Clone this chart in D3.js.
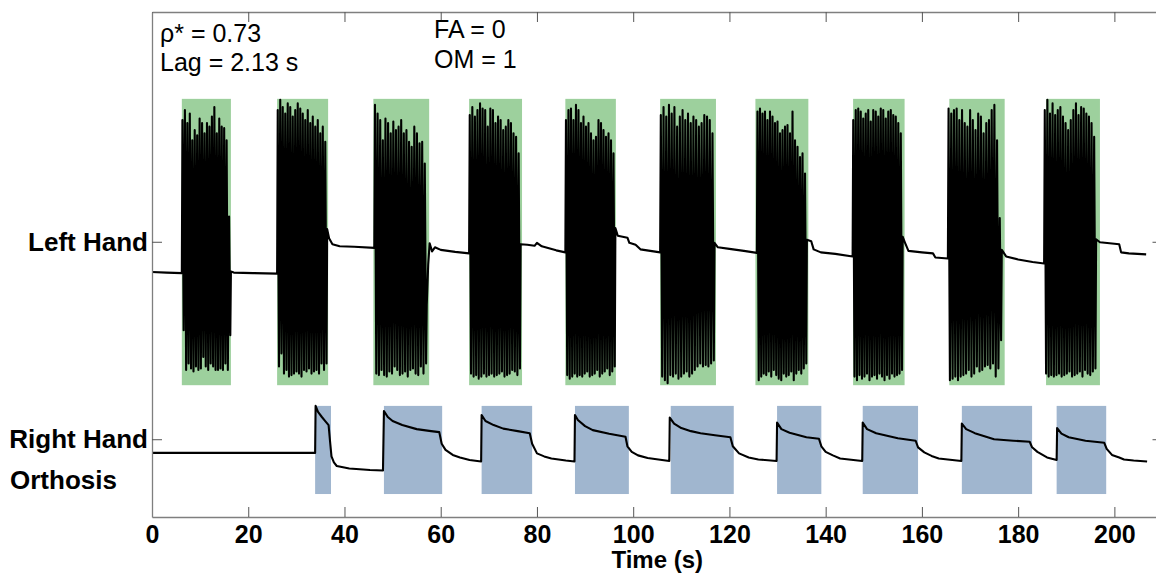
<!DOCTYPE html>
<html>
<head>
<meta charset="utf-8">
<script src="https://cdn.jsdelivr.net/npm/d3@7"></script>
<style>
    html, body { margin: 0; padding: 0; background: #fff; }
    svg { display: block; font-family: "Liberation Sans", Arial, sans-serif; }
</style>
</head>
<body>
<div id="chart"></div>
<script>
// Task cue blocks (s)
const greenStart = [6.2, 26.0, 46.0, 65.9, 85.9, 105.6, 125.4, 145.7, 165.7, 185.8];
const greenEnd   = [16.4, 36.6, 57.6, 76.9, 96.4, 117.2, 136.4, 156.4, 177.2, 197.0];
const blueStart  = [33.9, 48.2, 68.5, 87.9, 107.8, 129.9, 147.7, 168.3, 188.0];
const blueEnd    = [37.2, 60.3, 79.0, 99.1, 120.9, 139.1, 159.2, 182.9, 198.3];
const greenBand  = [26.1, 82.8];
const blueBand   = [4.55, 22.0];

// Y ticks
const yTickVals   = [54.5, 15.4];
const yTickLabels = ['Left Hand', 'Right Hand'];
const xTickVals   = [0, 20, 40, 60, 80, 100, 120, 140, 160, 180, 200];

// Left hand: quiet segments between bursts, [t, value]
const leftRest = [
    [[0, 48.5], [3, 48.4], [6.2, 48.3]],
    [[16.4, 48.6], [17, 48.4], [21, 48.3], [26.0, 48.2]],
    [[36.4, 57.0], [36.8, 55.2], [37.5, 54.0], [39, 53.6], [42, 53.5], [46.2, 53.3]],
    [[57.1, 42.0], [57.4, 50.0], [57.7, 54.2], [58.2, 52.6], [58.8, 53.4], [60, 52.9], [63, 52.5], [65.9, 52.2]],
    [[76.6, 54.0], [78, 53.9], [79.5, 53.7], [80, 54.3], [81, 53.6], [84, 52.8], [85.9, 52.4]],
    [[96.3, 57.2], [96.8, 55.7], [98.8, 55.3], [99.2, 54.3], [100.5, 53.9], [101.5, 53.0], [105.6, 52.4]],
    [[116.9, 54.3], [117.6, 53.4], [120, 53.1], [123, 52.7], [125.7, 52.3]],
    [[136.1, 54.9], [137, 54.6], [137.5, 53.0], [139, 52.4], [142, 52.1], [145.6, 51.6]],
    [[156.0, 55.5], [156.5, 54.3], [157.2, 52.7], [160, 52.4], [162.3, 52.2], [162.8, 51.4], [165.4, 51.2]],
    [[176.6, 52.9], [177.5, 51.6], [180, 51.0], [183, 50.5], [185.4, 50.2]],
    [[196.2, 55.0], [197, 54.4], [201.0, 54.0], [201.4, 52.4], [203, 52.2], [206.6, 52.0]]
];

// Left hand bursts: span and peak / trough values of each cycle
const burstStart = [6.2, 26.0, 46.2, 65.9, 85.9, 105.6, 125.7, 145.6, 165.4, 185.4];
const burstEnd   = [16.4, 36.4, 57.1, 76.6, 96.3, 116.9, 136.1, 156.0, 176.6, 196.2];
const burstPeaks = [
    [78.6, 80.6, 78.0, 79.9, 74.6, 76.6, 75.6, 78.9, 78.0, 76.0, 78.0, 77.3, 79.3, 81.2, 76.0, 78.9, 77.3, 77.0, 74.6, 59.5],
    [80.6, 82.6, 81.2, 79.9, 81.9, 81.2, 79.3, 80.6, 81.9, 80.9, 79.9, 78.6, 80.6, 78.0, 79.3, 77.3, 78.6, 76.0, 77.3, 74.3],
    [81.6, 79.9, 78.6, 74.6, 78.9, 78.0, 76.0, 78.3, 76.6, 77.3, 78.6, 76.0, 76.6, 74.3, 73.3, 77.3, 76.0, 74.0, 74.3, 70.0],
    [79.6, 81.2, 79.3, 80.6, 81.9, 80.9, 80.6, 77.3, 80.9, 80.6, 78.0, 79.3, 78.6, 76.6, 77.3, 78.6, 78.0, 76.0, 75.3, 72.0],
    [78.6, 80.6, 80.9, 78.6, 81.6, 80.6, 78.0, 79.3, 77.3, 78.0, 76.0, 74.6, 75.3, 78.6, 78.0, 76.6, 75.3, 76.0, 74.6, 72.0],
    [79.6, 81.2, 79.3, 81.6, 79.9, 81.2, 77.3, 79.3, 80.6, 78.6, 79.9, 78.0, 79.3, 78.6, 77.3, 78.0, 79.6, 79.3, 78.6, 76.0],
    [80.3, 80.9, 79.9, 80.3, 78.6, 80.3, 79.3, 78.0, 78.3, 76.0, 76.6, 77.3, 77.6, 76.0, 80.3, 74.6, 73.3, 71.3, 72.0, 68.0],
    [78.6, 80.6, 80.9, 80.3, 78.9, 79.9, 80.6, 78.3, 80.6, 80.3, 79.3, 80.9, 80.6, 78.9, 80.3, 80.6, 79.6, 79.3, 78.0, 76.0],
    [80.9, 79.9, 80.6, 80.9, 78.6, 80.6, 78.0, 77.3, 80.6, 78.6, 76.6, 79.9, 79.3, 76.0, 78.0, 78.6, 80.6, 81.6, 74.6, 59.2],
    [80.6, 82.6, 79.9, 81.9, 79.6, 80.6, 81.2, 79.3, 78.0, 76.6, 78.6, 80.6, 81.9, 79.6, 81.2, 80.9, 79.9, 79.3, 78.0, 75.3]
];
const burstTroughs = [
    [37.0, 29.1, 30.4, 29.4, 28.8, 29.8, 29.1, 29.4, 31.7, 29.8, 29.1, 30.4, 29.8, 29.1, 29.1, 29.4, 29.1, 30.4, 29.1, 36.0],
    [29.8, 32.4, 28.4, 29.1, 27.8, 28.1, 28.4, 28.8, 28.4, 27.8, 29.1, 28.8, 29.4, 28.4, 28.8, 29.1, 28.4, 30.4, 29.1, 30.4],
    [28.4, 28.1, 29.1, 28.1, 27.8, 28.8, 28.4, 29.8, 29.1, 28.1, 28.4, 28.8, 27.8, 29.1, 29.4, 28.4, 28.1, 29.8, 28.4, 30.4],
    [28.4, 27.8, 28.1, 27.4, 27.8, 28.4, 27.8, 28.1, 28.4, 27.8, 28.1, 28.4, 28.8, 27.8, 28.1, 28.4, 29.1, 28.8, 28.1, 29.4],
    [28.1, 27.4, 27.8, 28.4, 27.8, 28.1, 27.8, 28.4, 28.8, 27.8, 28.1, 28.4, 29.1, 27.8, 28.4, 28.8, 29.4, 28.1, 28.8, 29.8],
    [27.8, 27.1, 26.5, 28.1, 27.8, 28.4, 27.4, 27.8, 28.4, 28.8, 27.8, 28.4, 29.1, 29.8, 30.4, 29.8, 30.1, 29.8, 30.4, 31.0],
    [27.1, 27.8, 28.4, 28.1, 28.8, 27.8, 29.1, 28.1, 27.4, 27.1, 28.4, 27.8, 28.1, 28.8, 27.1, 28.4, 29.1, 28.4, 29.4, 30.4],
    [27.8, 27.1, 28.1, 27.4, 27.8, 28.4, 27.1, 27.8, 28.1, 27.4, 28.4, 27.8, 27.1, 28.1, 27.4, 28.4, 27.8, 28.1, 28.4, 29.1],
    [27.1, 27.4, 27.8, 27.1, 27.8, 28.1, 28.4, 29.1, 27.8, 28.4, 29.8, 28.8, 29.1, 29.8, 30.1, 29.4, 30.4, 27.8, 29.4, 35.0],
    [28.4, 27.8, 28.1, 27.8, 28.1, 28.4, 27.8, 28.1, 28.4, 28.8, 27.8, 28.1, 28.4, 28.8, 27.8, 29.1, 28.4, 28.1, 28.8, 29.4]
];

// Right hand orthosis trace, [t, value]
const rightTrace = [
    [0, 12.7], [33.9, 12.7], [34.0, 22.0], [34.5, 20.8], [35.3, 19.8], [36.0, 19.0], [36.7, 18.2], [37.0, 15.0], [37.3, 12.0], [37.8, 10.8], [38.4, 10.1], [41, 9.6], [45.3, 9.3], [48.0, 9.2],
    [48.2, 21.0], [49, 19.8], [50, 19.0], [52, 18.2], [55, 17.4], [58, 17.0], [59.7, 16.8], [60.2, 14.5], [61, 13.3], [62.5, 12.3], [64, 11.8], [66, 11.3], [68.4, 11.0],
    [68.5, 20.2], [69.3, 19.0], [71, 18.2], [73, 17.5], [76, 17.0], [78.5, 16.6], [79, 14.5], [80, 12.6], [81.5, 12.0], [83, 11.6], [86, 11.2], [87.8, 11.0],
    [87.9, 20.2], [88.5, 19.2], [90, 18.0], [91.6, 17.2], [95, 16.5], [98.4, 15.9], [98.8, 14.0], [99.7, 12.9], [101, 12.2], [103, 11.7], [107.5, 11.1],
    [107.6, 19.7], [108.5, 18.5], [110, 17.6], [112, 17.0], [114, 16.6], [117, 16.2], [120.2, 15.8], [120.7, 14.0], [122, 12.6], [124, 11.8], [126, 11.4], [129.8, 11.1],
    [129.9, 18.7], [130.8, 17.4], [132.5, 16.7], [136, 15.8], [138.6, 15.5], [139.1, 14.0], [140, 12.9], [141.5, 12.2], [143, 11.6], [147.6, 11.1],
    [147.7, 18.7], [148.6, 17.4], [150.5, 16.6], [155, 15.6], [158.7, 15.1], [159.2, 13.8], [160.5, 12.8], [162, 12.1], [163.5, 11.6], [168.2, 11.1],
    [168.3, 18.5], [169.2, 17.4], [171, 16.6], [175, 15.4], [179, 15.1], [182.4, 14.9], [182.9, 13.8], [184, 12.9], [186, 11.8], [188.0, 11.3],
    [188.1, 17.6], [189, 16.5], [190.5, 15.8], [194, 15.1], [197.9, 14.7], [198.4, 13.5], [199.5, 12.3], [201, 11.8], [202, 11.4], [204, 11.2], [206.8, 11.0]
];

const width = 1156, height = 573;
const margin = { top: 12, left: 152, bottom: 56 };
const plotRight = 1162.5;

const x = d3.scaleLinear().domain([0, 210]).range([margin.left, plotRight]);
const y = d3.scaleLinear().domain([0, 100]).range([height - margin.bottom, margin.top]);

// Assemble the left hand trace: rest segments with the bursts between them
const leftTrace = [];
leftRest.forEach((seg, i) => {
    leftTrace.push(...seg);
    if (i < burstStart.length) {
        const t0 = burstStart[i], dur = burstEnd[i] - burstStart[i];
        const n = burstPeaks[i].length;
        burstPeaks[i].forEach((p, k) => {
            leftTrace.push([t0 + dur * (k + 0.25) / n, p]);
            leftTrace.push([t0 + dur * (k + 0.75) / n, burstTroughs[i][k]]);
        });
    }
});

const svg = d3.select('#chart').append('svg')
    .attr('width', width)
    .attr('height', height);

// Cue blocks
svg.append('g').selectAll('rect')
    .data(greenStart.map((s, i) => [s, greenEnd[i]]))
    .join('rect')
    .attr('x', d => x(d[0]))
    .attr('width', d => x(d[1]) - x(d[0]))
    .attr('y', y(greenBand[1]))
    .attr('height', y(greenBand[0]) - y(greenBand[1]))
    .attr('fill', '#9dd09d');

svg.append('g').selectAll('rect')
    .data(blueStart.map((s, i) => [s, blueEnd[i]]))
    .join('rect')
    .attr('x', d => x(d[0]))
    .attr('width', d => x(d[1]) - x(d[0]))
    .attr('y', y(blueBand[1]))
    .attr('height', y(blueBand[0]) - y(blueBand[1]))
    .attr('fill', '#a0b6cf');

const line = d3.line().x(d => x(d[0])).y(d => y(d[1]));

svg.append('path')
    .datum(leftTrace)
    .attr('d', line)
    .attr('fill', 'none')
    .attr('stroke', '#000')
    .attr('stroke-width', 2.1)
    .attr('stroke-linejoin', 'round');

svg.append('path')
    .datum(rightTrace)
    .attr('d', line)
    .attr('fill', 'none')
    .attr('stroke', '#000')
    .attr('stroke-width', 2.1)
    .attr('stroke-linejoin', 'round');

// Axes (MATLAB box style, ticks pointing in)
function styleAxis(g) {
    g.select('.domain').attr('stroke', '#7f7f7f').attr('stroke-width', 1.3);
    g.selectAll('.tick line').attr('stroke', '#555');
}

svg.append('g')
    .attr('transform', `translate(0,${y(0)})`)
    .call(d3.axisBottom(x).tickValues(xTickVals).tickSize(-10).tickPadding(8).tickSizeOuter(0))
    .call(styleAxis)
    .call(g => g.selectAll('text')
        .attr('font-size', 25).attr('font-weight', 'bold').attr('fill', '#000')
        .attr('font-family', '"Liberation Sans", Arial, sans-serif'));

svg.append('g')
    .attr('transform', `translate(0,${y(100)})`)
    .call(d3.axisTop(x).tickValues(xTickVals).tickSize(-10).tickSizeOuter(0).tickFormat(''))
    .call(styleAxis);

svg.append('g')
    .attr('transform', `translate(${x(0)},0)`)
    .call(d3.axisLeft(y).tickValues(yTickVals).tickSize(-10).tickPadding(4).tickSizeOuter(0)
        .tickFormat((d, i) => yTickLabels[i]))
    .call(styleAxis)
    .call(g => g.selectAll('text')
        .attr('font-size', 26).attr('font-weight', 'bold').attr('fill', '#000')
        .attr('font-family', '"Liberation Sans", Arial, sans-serif'));

svg.append('g')
    .attr('transform', `translate(${plotRight},0)`)
    .call(d3.axisRight(y).tickValues(yTickVals).tickSize(-10).tickSizeOuter(0).tickFormat(''))
    .call(styleAxis);

svg.append('text')
    .attr('x', 10).attr('y', 489)
    .attr('font-size', 26).attr('font-weight', 'bold')
    .text('Orthosis');

svg.append('text')
    .attr('x', x(105)).attr('y', 568)
    .attr('text-anchor', 'middle')
    .attr('font-size', 24).attr('font-weight', 'bold')
    .text('Time (s)');

// Annotations
const notes = [
    ['ρ* = 0.73', 160, 42],
    ['Lag = 2.13 s', 160, 71],
    ['FA = 0', 434, 38],
    ['OM = 1', 434, 68]
];
svg.append('g').selectAll('text')
    .data(notes)
    .join('text')
    .attr('x', d => d[1]).attr('y', d => d[2])
    .attr('font-size', 25)
    .text(d => d[0]);
</script>
</body>
</html>
